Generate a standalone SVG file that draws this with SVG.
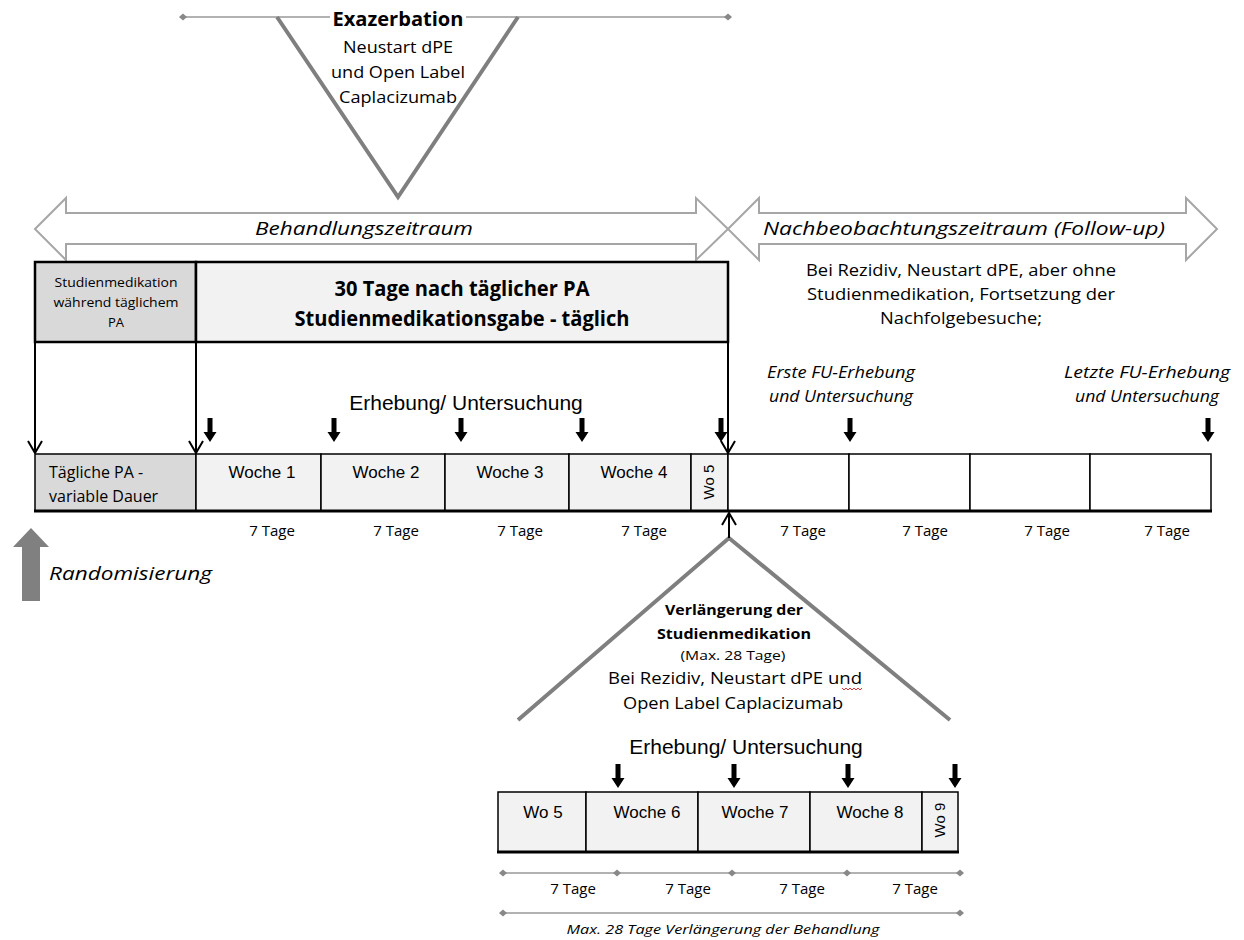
<svg xmlns="http://www.w3.org/2000/svg" width="1244" height="940" viewBox="0 0 1244 940">
<style>
.os{font-family:"Open Sans","Noto Sans",sans-serif;fill:#000}
.ls{font-family:"Liberation Sans",Arial,sans-serif;fill:#000}
.it{font-style:italic}
.b{font-weight:bold}
.m{text-anchor:middle}
.gl{stroke:#7f7f7f;stroke-width:4;fill:none;stroke-linecap:butt}
.ga{stroke:#a6a6a6;stroke-width:2;fill:#fff;stroke-linejoin:miter}
.dim{stroke:#999;stroke-width:1.3;fill:none}
.blk{stroke:#000;stroke-width:2;fill:none}
.bx{stroke:#000;stroke-width:1.5}
</style>
<defs>
<marker id="dm" viewBox="-5 -5 10 10" refX="0" refY="0" markerWidth="10" markerHeight="10" markerUnits="userSpaceOnUse"><path d="M-4,0 L0,-3.5 L4,0 L0,3.5Z" fill="#888"/></marker>
<marker id="oa" viewBox="0 0 14 16" refX="13" refY="8" markerWidth="14" markerHeight="16" orient="auto" markerUnits="userSpaceOnUse"><path d="M1,1 L13,8 L1,15" fill="none" stroke="#000" stroke-width="2"/></marker>
<path id="da" d="M-2.5,0 H2.5 V14 H6.5 L0,24 L-6.5,14 H-2.5 Z" fill="#000"/>
</defs>
<rect width="1244" height="940" fill="#fff"/>

<g id="exazerbation">
<polyline class="dim" points="183,17 728,17" marker-start="url(#dm)" marker-end="url(#dm)"/>
<polyline class="gl" points="277,17 398,197 518,17"/>
<rect x="330" y="5" width="136" height="22" fill="#fff"/>
<text class="os b m" x="398" y="26" font-size="19" textLength="131" lengthAdjust="spacingAndGlyphs">Exazerbation</text>
<text class="os m" x="398" y="53" font-size="16.5" textLength="110" lengthAdjust="spacingAndGlyphs">Neustart dPE</text>
<text class="os m" x="398" y="78" font-size="16.5" textLength="134" lengthAdjust="spacingAndGlyphs">und Open Label</text>
<text class="os m" x="398" y="103" font-size="16.5" textLength="118" lengthAdjust="spacingAndGlyphs">Caplacizumab</text>
</g>

<g id="behandlungszeitraum">
<path class="ga" d="M35,229 L66,198 L66,213 L696,213 L696,198 L728,229 L696,260 L696,244 L66,244 L66,260 Z"/>
<text class="os it m" x="364" y="235" font-size="19" textLength="218" lengthAdjust="spacingAndGlyphs">Behandlungszeitraum</text>
</g>

<g id="nachbeobachtungszeitraum">
<path class="ga" d="M728,229 L759,198 L759,213 L1186,213 L1186,198 L1217,229 L1186,260 L1186,244 L759,244 L759,260 Z"/>
<text class="os it m" x="964" y="235" font-size="19" textLength="402" lengthAdjust="spacingAndGlyphs">Nachbeobachtungszeitraum (Follow-up)</text>
</g>

<g id="followup-note">
<text class="os m" x="961" y="276" font-size="16" textLength="310" lengthAdjust="spacingAndGlyphs">Bei Rezidiv, Neustart dPE, aber ohne</text>
<text class="os m" x="961" y="300" font-size="16" textLength="308" lengthAdjust="spacingAndGlyphs">Studienmedikation, Fortsetzung der</text>
<text class="os m" x="961" y="324" font-size="16" textLength="162" lengthAdjust="spacingAndGlyphs">Nachfolgebesuche;</text>
</g>

<g id="box-studienmedikation-pa">
<rect x="35" y="262" width="161" height="80" fill="#d9d9d9" stroke="#000" stroke-width="2.5"/>
<text class="os m" x="116" y="287" font-size="13" textLength="123" lengthAdjust="spacingAndGlyphs">Studienmedikation</text>
<text class="os m" x="116" y="307" font-size="13" textLength="125" lengthAdjust="spacingAndGlyphs">während täglichem</text>
<text class="os m" x="116" y="327" font-size="13">PA</text>
</g>

<g id="box-30-tage">
<rect x="196" y="262" width="532" height="80" fill="#f2f2f2" stroke="#000" stroke-width="2.5"/>
<text class="os b m" x="462" y="296" font-size="22" textLength="255" lengthAdjust="spacingAndGlyphs">30 Tage nach täglicher PA</text>
<text class="os b m" x="462" y="326" font-size="22" textLength="335" lengthAdjust="spacingAndGlyphs">Studienmedikationsgabe - täglich</text>
</g>

<g id="labels-erhebung">
<text class="ls m" x="466" y="410" font-size="21">Erhebung/ Untersuchung</text>
<text class="os it m" x="841" y="378" font-size="16" textLength="148" lengthAdjust="spacingAndGlyphs">Erste FU-Erhebung</text>
<text class="os it m" x="841" y="402" font-size="16" textLength="144" lengthAdjust="spacingAndGlyphs">und Untersuchung</text>
<text class="os it m" x="1147" y="378" font-size="16" textLength="166" lengthAdjust="spacingAndGlyphs">Letzte FU-Erhebung</text>
<text class="os it m" x="1147" y="402" font-size="16" textLength="144" lengthAdjust="spacingAndGlyphs">und Untersuchung</text>
</g>

<g id="timeline">
<g id="tl-pa"><rect class="bx" x="35" y="454" width="161" height="57" fill="#d9d9d9"/>
<text class="os" x="49" y="478" font-size="16">Tägliche PA -</text>
<text class="os" x="49" y="502" font-size="16">variable Dauer</text></g>
<g id="tl-w1"><rect class="bx" x="196" y="454" width="125" height="57" fill="#f2f2f2"/><text class="ls m" x="262" y="478" font-size="17">Woche 1</text></g>
<g id="tl-w2"><rect class="bx" x="321" y="454" width="124" height="57" fill="#f2f2f2"/><text class="ls m" x="386" y="478" font-size="17">Woche 2</text></g>
<g id="tl-w3"><rect class="bx" x="445" y="454" width="124" height="57" fill="#f2f2f2"/><text class="ls m" x="510" y="478" font-size="17">Woche 3</text></g>
<g id="tl-w4"><rect class="bx" x="569" y="454" width="122" height="57" fill="#f2f2f2"/><text class="ls m" x="634" y="478" font-size="17">Woche 4</text></g>
<g id="tl-w5"><rect class="bx" x="691" y="454" width="37" height="57" fill="#f2f2f2"/><text class="ls m" x="709" y="482" font-size="15" transform="rotate(-90 709 482)" dy="5">Wo 5</text></g>
<g id="tl-fu1"><rect class="bx" x="728" y="454" width="121" height="57" fill="#fff"/></g>
<g id="tl-fu2"><rect class="bx" x="849" y="454" width="121" height="57" fill="#fff"/></g>
<g id="tl-fu3"><rect class="bx" x="970" y="454" width="120" height="57" fill="#fff"/></g>
<g id="tl-fu4"><rect class="bx" x="1090" y="454" width="121" height="57" fill="#fff"/></g>
<line x1="34" y1="511" x2="1212" y2="511" stroke="#000" stroke-width="3"/>
<g class="os m" font-size="15">
<text x="272" y="536">7 Tage</text><text x="396" y="536">7 Tage</text><text x="520" y="536">7 Tage</text><text x="644" y="536">7 Tage</text>
<text x="803" y="536">7 Tage</text><text x="925" y="536">7 Tage</text><text x="1047" y="536">7 Tage</text><text x="1167" y="536">7 Tage</text>
</g>
</g>

<g id="randomisierung">
<path d="M31,528 L49,547 L40,547 L40,601 L22,601 L22,547 L13,547 Z" fill="#808080"/>
<text class="os it" x="49" y="580" font-size="19" textLength="163" lengthAdjust="spacingAndGlyphs">Randomisierung</text>
</g>

<g id="verlaengerung">
<polyline class="gl" points="518,720 729,538 950,720"/>
<text class="os b m" x="734" y="615" font-size="15" textLength="138" lengthAdjust="spacingAndGlyphs">Verlängerung der</text>
<text class="os b m" x="734" y="639" font-size="15" textLength="154" lengthAdjust="spacingAndGlyphs">Studienmedikation</text>
<text class="os m" x="733" y="660" font-size="12.5" textLength="105" lengthAdjust="spacingAndGlyphs">(Max. 28 Tage)</text>
<text class="os m" x="735" y="684" font-size="16" textLength="254" lengthAdjust="spacingAndGlyphs">Bei Rezidiv, Neustart dPE und</text>
<text class="os m" x="733" y="709" font-size="16" textLength="220" lengthAdjust="spacingAndGlyphs">Open Label Caplacizumab</text>
<polyline points="842,688 844,690 846,688 848,690 850,688 852,690 854,688 856,690 858,688 860,690 862,688" fill="none" stroke="#e02020" stroke-width="0.9"/>
</g>

<g id="ext-timeline">
<text class="ls m" x="746" y="754" font-size="21">Erhebung/ Untersuchung</text>
<g id="ext-wo5"><rect class="bx" x="498" y="792" width="88" height="60" fill="#f2f2f2"/><text class="ls m" x="543" y="818" font-size="17">Wo 5</text></g>
<g id="ext-w6"><rect class="bx" x="586" y="792" width="112" height="60" fill="#f2f2f2"/><text class="ls m" x="647" y="818" font-size="17">Woche 6</text></g>
<g id="ext-w7"><rect class="bx" x="698" y="792" width="112" height="60" fill="#f2f2f2"/><text class="ls m" x="755" y="818" font-size="17">Woche 7</text></g>
<g id="ext-w8"><rect class="bx" x="810" y="792" width="112" height="60" fill="#f2f2f2"/><text class="ls m" x="870" y="818" font-size="17">Woche 8</text></g>
<g id="ext-wo9"><rect class="bx" x="922" y="792" width="36" height="60" fill="#f2f2f2"/><text class="ls m" x="940" y="820" font-size="15" transform="rotate(-90 940 820)" dy="5">Wo 9</text></g>
<line x1="497" y1="852" x2="959" y2="852" stroke="#000" stroke-width="3"/>
</g>

<g id="dimensions">
<polyline class="dim" points="503,873 617,873 732,873 847,873 960,873" marker-start="url(#dm)" marker-mid="url(#dm)" marker-end="url(#dm)"/>
<g class="os m" font-size="15">
<text x="573" y="894">7 Tage</text><text x="688" y="894">7 Tage</text><text x="802" y="894">7 Tage</text><text x="915" y="894">7 Tage</text>
</g>
<polyline class="dim" points="503,913 960,913" marker-start="url(#dm)" marker-end="url(#dm)"/>
<text class="os it m" x="723" y="934" font-size="12" textLength="313" lengthAdjust="spacingAndGlyphs">Max. 28 Tage Verlängerung der Behandlung</text>
</g>

<g id="connectors">
<line class="blk" x1="35" y1="342" x2="35" y2="453" marker-end="url(#oa)"/>
<line class="blk" x1="196" y1="342" x2="196" y2="453" marker-end="url(#oa)"/>
<line class="blk" x1="728" y1="342" x2="728" y2="453" marker-end="url(#oa)"/>
<line class="blk" x1="729" y1="538" x2="729" y2="513" marker-end="url(#oa)"/>
<use href="#da" x="210" y="418"/>
<use href="#da" x="334" y="418"/>
<use href="#da" x="461" y="418"/>
<use href="#da" x="582" y="418"/>
<use href="#da" x="721" y="418"/>
<use href="#da" x="850" y="418"/>
<use href="#da" x="1208" y="418"/>
<use href="#da" x="618" y="764"/>
<use href="#da" x="734" y="764"/>
<use href="#da" x="848" y="764"/>
<use href="#da" x="955" y="764"/>
</g>
</svg>
